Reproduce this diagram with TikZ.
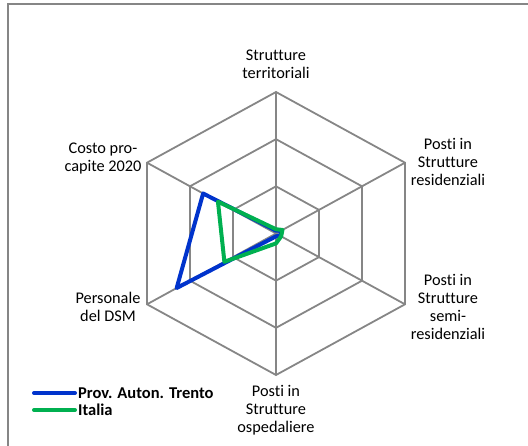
\documentclass[tikz,border=0pt]{standalone}
\usepackage{fontspec}
\setmainfont{Carlito}[Ligatures=NoCommon]
\usetikzlibrary{calc}
\definecolor{trento}{RGB}{0,51,204}
\definecolor{italia}{RGB}{0,176,80}
\definecolor{griglia}{RGB}{134,134,134}

\begin{document}
\begin{tikzpicture}[x=1pt,y=-1pt,
  grid/.style={draw=griglia,line width=1.8pt},
  serie/.style={line width=4pt,line join=round},
  etichetta/.style={align=center,inner sep=0pt,font=\fontsize{16.3}{18}\selectfont},
  legenda/.style={anchor=west,inner sep=0pt,font=\fontsize{16.5}{18}\selectfont\bfseries}]
\useasboundingbox (0,0) rectangle (528,446);
\clip (0,0) rectangle (528,446);
\draw[draw=griglia,line width=2pt] (8,460) -- (8,4) -- (540,4);
% assi del radar
\coordinate (C) at (276,233.5);
\coordinate (T) at (276,92);
\coordinate (UR) at (405,162.7);
\coordinate (LR) at (405,304.3);
\coordinate (B) at (276,375);
\coordinate (LL) at (147,304.3);
\coordinate (UL) at (147,162.7);
\draw[grid] (T)--(UR)--(LR)--(B)--(LL)--(UL)--cycle;
\draw[grid] ($(C)!0.6667!(T)$)--($(C)!0.6667!(UR)$)--($(C)!0.6667!(LR)$)--($(C)!0.6667!(B)$)--($(C)!0.6667!(LL)$)--($(C)!0.6667!(UL)$)--cycle;
\draw[grid] ($(C)!0.3333!(T)$)--($(C)!0.3333!(UR)$)--($(C)!0.3333!(LR)$)--($(C)!0.3333!(B)$)--($(C)!0.3333!(LL)$)--($(C)!0.3333!(UL)$)--cycle;
\draw[grid] (C)--(T);
\draw[grid] (C)--(UR);
\draw[grid] (C)--(LR);
\draw[grid] (C)--(B);
\draw[grid] (C)--(LL);
\draw[grid] (C)--(UL);
% Trento
\coordinate (tT) at ($(C)!0.02!(T)$);
\coordinate (tUR) at ($(C)!0.045!(UR)$);
\coordinate (tLR) at ($(C)!0.03!(LR)$);
\coordinate (tB) at ($(C)!0.02!(B)$);
\coordinate (tLL) at ($(C)!0.77!(LL)$);
\coordinate (tUL) at ($(C)!0.565!(UL)$);
\draw[serie,trento] (tT)--(tUR)--(tLR)--(tB)--(tLL)--(tUL)--cycle;
% Italia
\coordinate (iT) at ($(C)!0.03!(T)$);
\coordinate (iUR) at ($(C)!0.05!(UR)$);
\coordinate (iLR) at ($(C)!0.04!(LR)$);
\coordinate (iB) at ($(C)!0.07!(B)$);
\coordinate (iLL) at ($(C)!0.40!(LL)$);
\coordinate (iUL) at ($(C)!0.45!(UL)$);
\draw[serie,italia] (iT)--(iUR)--(iLR)--(iB)--(iLL)--(iUL)--cycle;
% etichette
\node[etichetta] (terr) at (276,64.5) {Strutture\\territoriali};
\node[etichetta] (resid) at (448,162) {Posti in\\Strutture\\residenziali};
\node[etichetta] (semi) at (448,307) {Posti in\\Strutture\\semi-\\residenziali};
\node[etichetta] (osped) at (276,410) {Posti in\\Strutture\\ospedaliere};
\node[etichetta] (pers) at (108,306.5) {Personale\\del DSM};
\node[etichetta] (costo) at (103,159) {Costo pro-\\capite 2020};
% legenda
\coordinate (lt) at (34,393);
\node[legenda] (ltn) at (78,393) {Prov. Auton. Trento};
\draw[serie,trento,line cap=round] (lt) -- ([xshift=-3pt]ltn.west);
\coordinate (li) at (34,410);
\node[legenda] (lin) at (78,410) {Italia};
\draw[serie,italia,line cap=round] (li) -- ([xshift=-3pt]lin.west);
\end{tikzpicture}
\end{document}
